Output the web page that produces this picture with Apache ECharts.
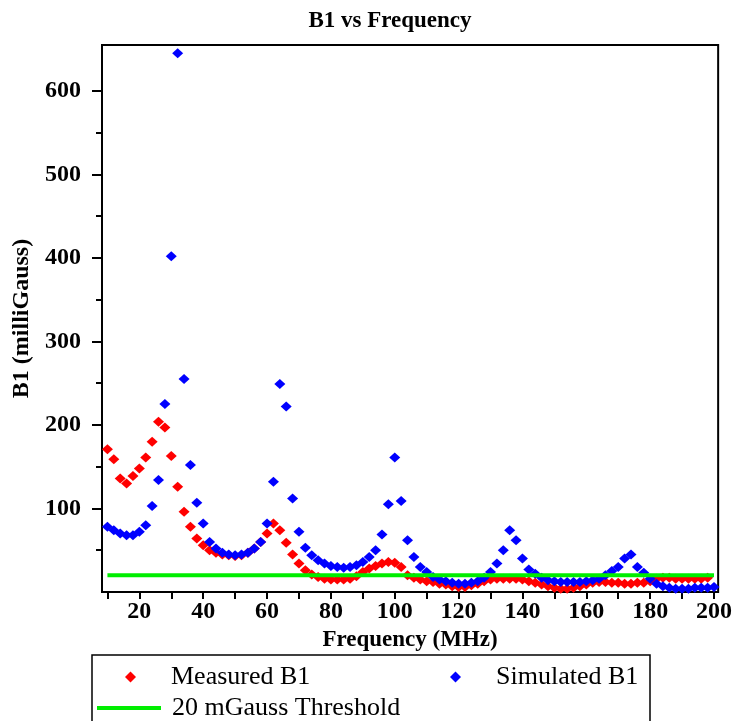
<!DOCTYPE html>
<html>
<head>
<meta charset="utf-8">
<script src="https://cdn.jsdelivr.net/npm/echarts@6/dist/echarts.min.js"></script>
<style>html,body{margin:0;padding:0;background:#fff}#c{width:735px;height:721px}</style>
</head>
<body>
<div id="c"></div>
<script>
const freqs = [10,12,14,16,18,20,22,24,26,28,30,32,34,36,38,40,42,44,46,48,50,52,54,56,58,60,62,64,66,68,70,72,74,76,78,80,82,84,86,88,90,92,94,96,98,100,102,104,106,108,110,112,114,116,118,120,122,124,126,128,130,132,134,136,138,140,142,144,146,148,150,152,154,156,158,160,162,164,166,168,170,172,174,176,178,180,182,184,186,188,190,192,194,196,198,200];
const measured = [171,159,136,130,139,148,161,180,204,197,163,126,96,78,64,56,
  50,47,45,44,43,44,47,52,60,70,82,74,59,45,34,
  26,21,18,16,15,15,15,16,19,24,28,31,34,36,35,
  30,20,17,15,13,12,10,9,7,6,6,8,10,13,15,
  16,16,16,16,15,13,11,9,7,5,4,4,5,7,9,
  11,12,12,11,11,10,10,11,11,13,16,17,17,16,16,
  16,16,16,17,null];
const simulated = [78,74,70,68,68,72,80,103,134,225,402,645,255,152,107,82,
  60,52,47,45,44,45,47,52,60,82,132,249,222,112,72,
  53,44,38,34,31,30,29,30,32,36,42,50,69,105,161,
  109,62,42,30,24,18,15,13,11,10,10,11,13,17,24,
  34,50,74,62,40,27,22,17,14,13,12,12,12,12,13,
  14,16,20,25,30,40,45,30,23,16,10,7,5,4,4,
  4,5,5,5,6];
const thresholdX = [10,200];
const thresholdY = [20,20];
const xTickValues = [10,20,30,40,50,60,70,80,90,100,110,120,130,140,150,160,170,180,190,200];
const xLabelValues = [20,40,60,80,100,120,140,160,180,200];
const yLabelValues = [100,200,300,400,500,600];
const yMinorValues = [50,150,250,350,450,550];

const F = 'Liberation Serif';
const pair = (xs, ys) => xs.map((x, i) => [x, ys[i]]).filter(p => p[1] != null);

const chart = echarts.init(document.getElementById('c'));
chart.setOption({
  animation: false,
  title: {
    text: 'B1 vs Frequency', left: 385, top: 5, textAlign: 'center',
    textStyle: {fontFamily: F, fontWeight: 'bold', fontSize: 23, color: '#000'}
  },
  grid: {left: 102, top: 45, right: 14, bottom: 129, show: true, borderColor: '#000', borderWidth: 2, backgroundColor: '#fff'},
  xAxis: {
    type: 'value', min: 8.3, max: 201.3,
    name: 'Frequency (MHz)', nameLocation: 'middle', nameGap: 37,
    nameTextStyle: {fontFamily: F, fontWeight: 'bold', fontSize: 23, color: '#000'},
    axisLine: {show: true, lineStyle: {color: '#000', width: 2}},
    axisTick: {show: true, length: 7, lineStyle: {color: '#000', width: 2}, customValues: xTickValues},
    axisLabel: {fontFamily: F, fontWeight: 'bold', fontSize: 24, color: '#000', margin: 8, customValues: xLabelValues},
    splitLine: {show: false}
  },
  yAxis: [{
    type: 'value', min: 0, max: 655,
    name: 'B1 (milliGauss)', nameLocation: 'middle', nameGap: 68,
    nameTextStyle: {fontFamily: F, fontWeight: 'bold', fontSize: 24, color: '#000'},
    axisLine: {show: true, lineStyle: {color: '#000', width: 2}},
    axisTick: {show: true, length: 10, lineStyle: {color: '#000', width: 2}, customValues: yLabelValues},
    axisLabel: {fontFamily: F, fontWeight: 'bold', fontSize: 24, color: '#000', margin: 21, customValues: yLabelValues},
    splitLine: {show: false}
  }, {
    type: 'value', min: 0, max: 655, position: 'left',
    axisLine: {show: false},
    axisTick: {show: true, length: 6, lineStyle: {color: '#000', width: 2}, customValues: yMinorValues},
    axisLabel: {show: false},
    splitLine: {show: false}
  }],
  legend: [
    {data: ['Measured B1'], left: 120, top: 659, icon: 'diamond', itemWidth: 11, itemHeight: 11,
     textStyle: {fontFamily: F, fontSize: 26, color: '#000', padding: [0, 0, 0, 30]}},
    {data: ['Simulated B1'], left: 445, top: 659, icon: 'diamond', itemWidth: 11, itemHeight: 11,
     textStyle: {fontFamily: F, fontSize: 26, color: '#000', padding: [0, 0, 0, 30]}},
    {data: [{name: '20 mGauss Threshold', icon: 'rect'}], left: 92, top: 690, itemWidth: 64, itemHeight: 4,
     textStyle: {fontFamily: F, fontSize: 26, color: '#000', padding: [0, 0, 0, 6]}}
  ],
  graphic: [{type: 'rect', shape: {x: 92, y: 655, width: 558, height: 80}, style: {fill: 'none', stroke: '#000', lineWidth: 1.5}, z: -1}],
  series: [
    {name: 'Measured B1', type: 'scatter', symbol: 'diamond', symbolSize: [11, 10], itemStyle: {color: '#ff0000', opacity: 1}, data: pair(freqs, measured), z: 2},
    {name: 'Simulated B1', type: 'scatter', symbol: 'diamond', symbolSize: [11, 10], itemStyle: {color: '#0000ff', opacity: 1}, data: pair(freqs, simulated), z: 3},
    {name: '20 mGauss Threshold', type: 'line', symbol: 'none', lineStyle: {color: '#00ee00', width: 4}, itemStyle: {color: '#00ee00'}, data: pair(thresholdX, thresholdY), z: 4}
  ]
});
</script>
</body>
</html>
